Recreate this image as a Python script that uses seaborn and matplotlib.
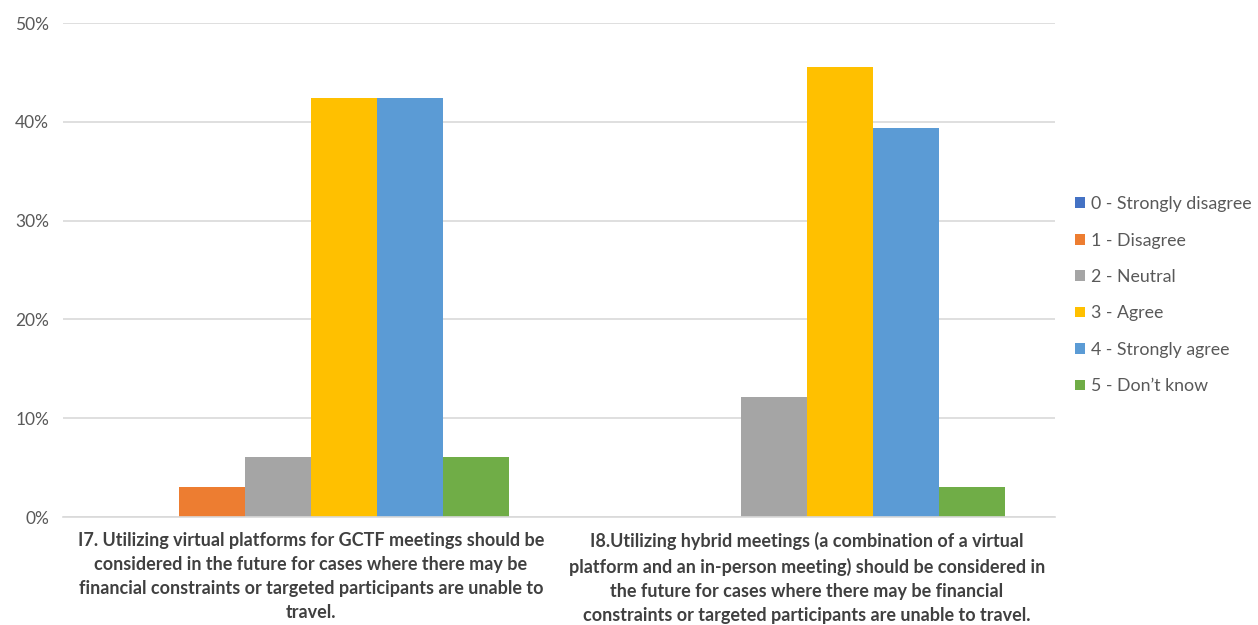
import pandas as pd
import matplotlib.pyplot as plt
import seaborn as sns
from matplotlib.ticker import PercentFormatter

# data
questions = [
    "I7. Utilizing virtual platforms for GCTF meetings should be\nconsidered in the future for cases where there may be\nfinancial constraints or targeted participants are unable to\ntravel.",
    "I8.Utilizing hybrid meetings (a combination of a virtual\nplatform and an in-person meeting) should be considered in\nthe future for cases where there may be financial\nconstraints or targeted participants are unable to travel.",
]
answers = ["0 - Strongly disagree", "1 - Disagree", "2 - Neutral",
           "3 - Agree", "4 - Strongly agree", "5 - Don\u2019t know"]
i7_values = [0.0, 3.0, 6.1, 42.4, 42.4, 6.1]
i8_values = [0.0, 0.0, 12.1, 45.5, 39.4, 3.0]
colors = ["#4472C4", "#ED7D31", "#A5A5A5", "#FFC000", "#5B9BD5", "#70AD47"]

df = pd.DataFrame({
    "question": [questions[0]] * 6 + [questions[1]] * 6,
    "answer": answers * 2,
    "pct": i7_values + i8_values,
})

sns.set_theme(style="white")
plt.rcParams["font.family"] = ["Lato", "DejaVu Sans"]

fig = plt.figure(figsize=(12.58, 6.25), dpi=100)
ax = fig.add_axes([0.050, 0.1728, 0.7886, 0.7904])

sns.barplot(data=df, x="question", y="pct", hue="answer", hue_order=answers,
            order=questions, palette=colors, width=0.8, saturation=1,
            ax=ax, edgecolor="none")

ax.set_ylim(0, 50)
ax.set_yticks([0, 10, 20, 30, 40, 50])
ax.yaxis.set_major_formatter(PercentFormatter(decimals=0))
ax.grid(axis="y", color="#D9D9D9", linewidth=1.2)
ax.set_axisbelow(True)
for s in ["top", "right", "left"]:
    ax.spines[s].set_visible(False)
ax.spines["bottom"].set_color("#D9D9D9")
ax.spines["bottom"].set_linewidth(1.2)
ax.set_xlabel("")
ax.set_ylabel("")
ax.tick_params(axis="y", length=0, labelsize=12.5, labelcolor="#595959", pad=10)
ax.tick_params(axis="x", length=0, pad=11)
for lab in ax.get_xticklabels():
    lab.set_fontsize(13)
    lab.set_fontweight("bold")
    lab.set_color("#404040")
    lab.set_linespacing(1.5)

ax.legend(loc="center left", bbox_to_anchor=(1.004, 0.449), frameon=False,
          fontsize=12.8, labelcolor="#595959", handlelength=0.55, handleheight=0.55,
          handletextpad=0.35, labelspacing=1.15)

fig.savefig("out.png", dpi=100)
